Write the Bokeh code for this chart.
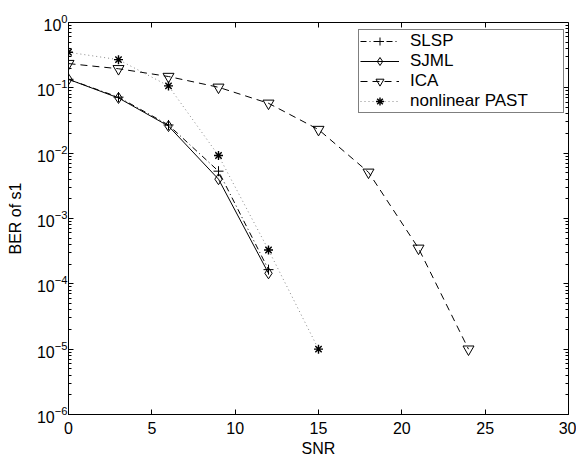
from bokeh.plotting import figure
from bokeh.models import LogAxis, LinearAxis, FixedTicker, Legend, LegendItem, LogTickFormatter
from bokeh.embed import file_html
from bokeh.resources import INLINE

# ---- data ----
snr_short = [0, 3, 6, 9, 12]
slsp = [0.135, 0.072, 0.027, 0.0053, 0.000165]
sjml = [0.135, 0.070, 0.026, 0.0040, 0.000145]

snr_ica = [0, 3, 6, 9, 12, 15, 18, 21, 24]
ica = [0.235, 0.196, 0.149, 0.102, 0.058, 0.023, 0.0051, 0.00035, 0.00001]

snr_past = [0, 3, 6, 9, 12, 15]
past = [0.35, 0.27, 0.107, 0.0092, 0.00033, 0.00001]

x_ticks = [0, 5, 10, 15, 20, 25, 30]
y_exponents = [-6, -5, -4, -3, -2, -1, 0]

FONT = "Liberation Sans"

p = figure(width=576, height=462, y_axis_type="log",
           x_range=(0, 30), y_range=(1e-6, 1),
           output_backend="svg", toolbar_location=None,
           min_border_left=68, min_border_right=8,
           min_border_top=22, min_border_bottom=48)
p.xgrid.visible = False
p.ygrid.visible = False
p.outline_line_color = "black"
p.outline_line_width = 1

major_y = [10.0 ** e for e in y_exponents]
minor_y = [k * 10.0 ** e for e in y_exponents[:-1] for k in range(2, 10)]


def style_axis(ax, labels=True):
    ax.axis_line_color = "black"
    ax.major_tick_line_color = "black"
    ax.minor_tick_line_color = "black"
    ax.major_tick_in = 5
    ax.major_tick_out = 0
    ax.minor_tick_in = 3
    ax.minor_tick_out = 0
    ax.major_label_text_font = FONT
    if labels:
        ax.major_label_text_color = "black"
        ax.major_label_text_font_size = "16px"
    else:
        ax.major_label_text_color = None
        ax.major_label_text_font_size = "1px"
        ax.major_label_standoff = 0


# x axis
p.xaxis.ticker = FixedTicker(ticks=x_ticks)
style_axis(p.xaxis[0])
p.xaxis.minor_tick_line_color = None
p.xaxis.major_label_standoff = 7
p.xaxis.axis_label = "SNR"
p.xaxis.axis_label_text_font = FONT
p.xaxis.axis_label_text_font_size = "16px"
p.xaxis.axis_label_text_font_style = "normal"
p.xaxis.axis_label_text_color = "black"
p.xaxis.axis_label_standoff = 3

# y axis
p.yaxis.ticker = FixedTicker(ticks=major_y, minor_ticks=minor_y)
p.yaxis.formatter = LogTickFormatter()
style_axis(p.yaxis[0])
p.yaxis.major_label_standoff = 1
p.yaxis.axis_label = "BER of s1"
p.yaxis.axis_label_text_font = FONT
p.yaxis.axis_label_text_font_size = "16px"
p.yaxis.axis_label_text_font_style = "normal"
p.yaxis.axis_label_text_color = "black"
p.yaxis.axis_label_standoff = 10

# box axes (top / right), ticks only
top = LinearAxis(ticker=FixedTicker(ticks=x_ticks), fixed_location=1.0)
style_axis(top, labels=False)
top.minor_tick_line_color = None
p.add_layout(top, "above")
right = LogAxis(ticker=FixedTicker(ticks=major_y, minor_ticks=minor_y), fixed_location=30)
style_axis(right, labels=False)
p.add_layout(right, "right")

# series
l1 = p.line(snr_short, slsp, line_color="black", line_width=1, line_dash="6 3 1 3")
m1 = p.scatter(snr_short, slsp, marker="cross", size=10, line_color="black", line_width=1)

l2 = p.line(snr_short, sjml, line_color="black", line_width=1)
m2 = p.scatter(snr_short, sjml, marker="diamond", size=11, line_color="black",
               fill_color=None, line_width=1)

l3 = p.line(snr_ica, ica, line_color="black", line_width=1, line_dash="7 5")
m3 = p.scatter(snr_ica, ica, marker="inverted_triangle", size=11, line_color="black",
               fill_color=None, line_width=1)

l4 = p.line(snr_past, past, line_color="#888888", line_width=1, line_dash="1 3")
m4 = p.scatter(snr_past, past, marker="asterisk", size=9, line_color="black", line_width=1.4)

legend = Legend(items=[
    LegendItem(label="SLSP", renderers=[l1, m1]),
    LegendItem(label="SJML", renderers=[l2, m2]),
    LegendItem(label="ICA", renderers=[l3, m3]),
    LegendItem(label="nonlinear PAST", renderers=[l4, m4]),
], location=(290, 301))
legend.margin = 0
legend.padding = 1
legend.spacing = 0
legend.glyph_width = 39
legend.glyph_height = 20
legend.label_height = 20
legend.label_width = 152
legend.label_standoff = 11
legend.label_text_font = FONT
legend.label_text_font_size = "17px"
legend.label_text_color = "black"
legend.border_line_color = "black"
legend.border_line_width = 1
legend.background_fill_color = "white"
legend.background_fill_alpha = 1
p.add_layout(legend, "center")

open("out.html", "w").write(file_html(p, INLINE))
